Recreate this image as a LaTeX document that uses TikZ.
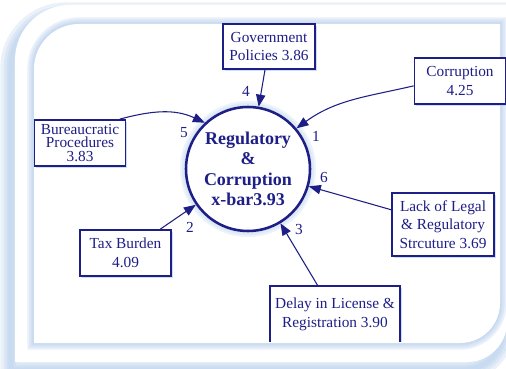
\documentclass[tikz,border=0pt]{standalone}
\usepackage{fontspec}
\setmainfont{Liberation Serif}
\usetikzlibrary{arrows.meta,shadows}

\definecolor{navy}{RGB}{30,30,135}
\definecolor{frameblue}{RGB}{184,208,236}

\begin{document}
\begin{tikzpicture}[x=0.75pt, y=0.75pt,
    hub/.style={circle, draw=navy, line width=1.9pt, fill=white, text=navy,
        minimum size=93pt, inner sep=0pt, align=center,
        font=\bfseries\fontsize{13.5}{15.4}\selectfont},
    factor/.style={rectangle, draw=navy, line width=1.3pt, fill=white, text=navy,
        inner sep=1pt, align=center, font=\fontsize{11.5}{14}\selectfont,
        drop shadow={fill=frameblue, opacity=0.7, shadow xshift=1.2pt, shadow yshift=-1.5pt}},
    weight/.style={text=navy, inner sep=0pt, font=\fontsize{11.5}{14}\selectfont},
    link/.style={navy, line width=0.8pt, -{Triangle[length=9pt, width=7pt]}}
]
    \useasboundingbox (0,0) rectangle (506,368);

    % outer panel with its soft edge
    \foreach \w in {16,11,7,4}
        \draw[frameblue, line width=\w pt, opacity=0.3, shift={(-4,-8)}]
            (15,6) -- (15,308) arc[start angle=180, end angle=90, radius=55]
            -- (507,363) -- (507,46) arc[start angle=0, end angle=-90, radius=40] -- cycle;
    \fill[white] (15,6) -- (15,308) arc[start angle=180, end angle=90, radius=55]
        -- (507,363) -- (507,46) arc[start angle=0, end angle=-90, radius=40] -- cycle;

    % inner panel
    \foreach \w in {10,7,4,2}
        \draw[frameblue, line width=\w pt, opacity=0.3]
            (34,25) -- (34,299) arc[start angle=180, end angle=90, radius=45]
            -- (500,344) -- (500,65) arc[start angle=0, end angle=-90, radius=40] -- cycle;
    \fill[white] (34,25) -- (34,299) arc[start angle=180, end angle=90, radius=45]
        -- (500,344) -- (500,65) arc[start angle=0, end angle=-90, radius=40] -- cycle;

    \begin{scope}
        \clip (0,26.5) rectangle (506,368);

        % halo round the hub
        \foreach \r in {68,66,64}
            \fill[frameblue, opacity=0.25] (248,199) circle[radius=\r];
        \node[hub] (hub) at (248,199) {Regulatory\\\&\\Corruption\\x-bar3.93};

        \node[factor, minimum width=69pt, minimum height=33.75pt] (gov) at (269,321.5) {Government\\Policies 3.86};
        \node[factor, minimum width=68.25pt, minimum height=34.5pt] (corr) at (460,287) {Corruption\\4.25};
        \node[factor, minimum width=68.25pt, minimum height=34.5pt,
            font=\fontsize{11.5}{10.3}\selectfont] (bur) at (80,225) {Bureaucratic\\Procedures\\3.83};
        \node[factor, minimum width=68.25pt, minimum height=34.5pt] (tax) at (125.5,115) {Tax Burden\\4.09};
        \node[factor, minimum width=76.5pt, minimum height=47.25pt] (lack) at (443,143.5) {Lack of Legal\\\& Regulatory\\Strcuture 3.69};
        \node[factor, minimum width=97.5pt, minimum height=42.75pt] (delay) at (335,53.5) {Delay in License \&\\Registration 3.90};

        \draw[link] (corr.186) to[out=193, in=36] (hub.40);
        \draw[link] (tax) -- (hub);
        \draw[link] (delay) -- (hub);
        \draw[link] (gov) -- (hub);
        \draw[link] (bur.31) to[out=15, in=155] (hub.133);
        \draw[link] (lack) -- (hub);

        \node[weight] (w1) at (316,232) {1};
        \node[weight] (w2) at (190,141) {2};
        \node[weight] (w3) at (299,139) {3};
        \node[weight] (w4) at (246,277) {4};
        \node[weight] (w5) at (184,235) {5};
        \node[weight] (w6) at (324,191) {6};
    \end{scope}
\end{tikzpicture}
\end{document}
